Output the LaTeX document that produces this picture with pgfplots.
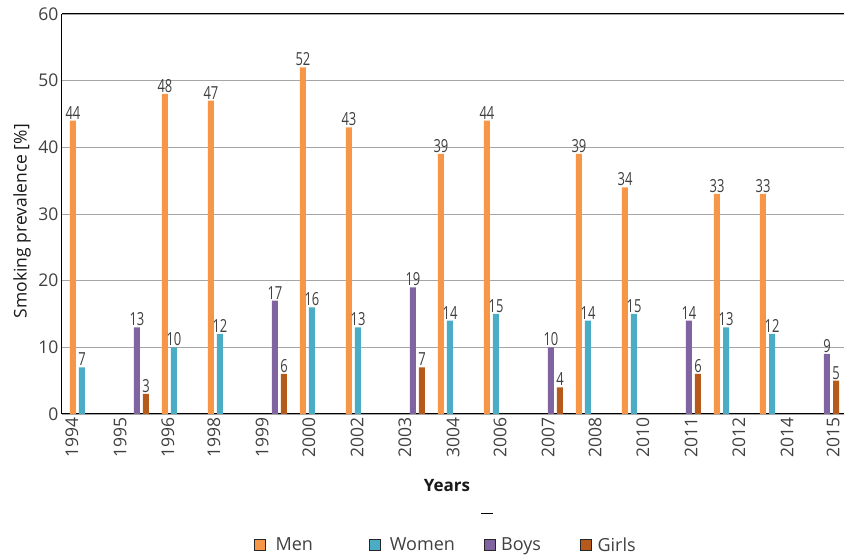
\documentclass[border=0pt]{standalone}
\usepackage{pgfplots}
\pgfplotsset{compat=1.18}
\usepackage{fontspec}
\setmainfont{Open Sans}
\newfontfamily\condfont[FakeStretch=0.72]{Open Sans}
\definecolor{men}{HTML}{F79646}
\definecolor{women}{HTML}{4BACC6}
\definecolor{boys}{HTML}{8064A2}
\definecolor{girls}{HTML}{B65A1C}
\definecolor{lbl}{HTML}{404040}
\definecolor{gridc}{HTML}{A6A6A6}
\begin{document}
\begin{tikzpicture}
\begin{axis}[
  at={(0pt,0pt)}, anchor=south west,
  scale only axis, width=782pt, height=400pt,
  xmin=-0.239, xmax=16.761, ymin=0, ymax=60,
  axis lines=left, axis line style={-, black, line width=1pt},
  ymajorgrids, grid style={gridc, line width=0.9pt},
  ytick={0,10,...,60},
  xtick={-0.022,1.022,2.065,3.065,4.109,5.130,6.174,7.217,8.261,9.283,10.326,11.348,12.391,13.435,14.478,15.522,16.522},
  xticklabels={1994,1995,1996,1998,1999,2000,2002,2003,3004,2006,2007,2008,2010,2011,2012,2014,2015},
  major tick length=0pt,
  tick label style={font=\fontsize{17.5}{20}\selectfont, text=lbl},
  x tick label style={rotate=90, anchor=east},
  /pgf/number format/assume math mode=true,
  ylabel={Smoking prevalence [\%]},
  y label style={at={(axis description cs:-0.0512,0.482)}, anchor=center, font=\fontsize{17.5}{20}\selectfont, text=black!90},
  xlabel={Years},
  x label style={at={(axis description cs:0.4923,-0.18)}, anchor=center, font=\fontsize{17}{20}\selectfont\bfseries, text=black!90},
  nodes near coords,
  every node near coord/.append style={font=\condfont\fontsize{18}{20}\selectfont, text=lbl, anchor=south, inner sep=1.2pt},
  legend columns=4,
  legend style={at={(axis description cs:0.2455,-0.3275)}, anchor=west, draw=none, fill=none, inner sep=0pt, nodes={inner sep=0pt}, font=\fontsize{18}{21}\selectfont, text=lbl, column sep=0pt},
]
\addplot[ybar, bar width=6pt, bar shift=0pt, fill=men, draw=none,
  legend image code/.code={\draw[fill=men, draw=black!85, line width=0.7pt] (0pt,-5.5pt) rectangle (11pt,5.5pt); \path (21pt,0pt);}]
  coordinates {(0,44) (2,48) (3,47) (5,52) (6,43) (8,39) (9,44) (11,39) (12,34) (14,33) (15,33)};
\addlegendentry[text width=93pt]{Men}
\addplot[ybar, bar width=6pt, bar shift=0pt, fill=women, draw=none,
  legend image code/.code={\draw[fill=women, draw=black!85, line width=0.7pt] (0pt,-5.5pt) rectangle (11pt,5.5pt); \path (21pt,0pt);}]
  coordinates {(0.1957,7) (2.1957,10) (3.1957,12) (5.1957,16) (6.1957,13) (8.1957,14) (9.1957,15) (11.1957,14) (12.1957,15) (14.1957,13) (15.1957,12)};
\addlegendentry[text width=94pt]{Women}
\addplot[ybar, bar width=6pt, bar shift=0pt, fill=boys, draw=none,
  legend image code/.code={\draw[fill=boys, draw=black!85, line width=0.7pt] (0pt,-5.5pt) rectangle (11pt,5.5pt); \path (17pt,0pt);}]
  coordinates {(1.3913,13) (4.3913,17) (7.3913,19) (10.3913,10) (13.3913,14) (16.3913,9)};
\addlegendentry[text width=79pt]{Boys}
\addplot[ybar, bar width=6pt, bar shift=0pt, fill=girls, draw=none,
  legend image code/.code={\draw[fill=girls, draw=black!85, line width=0.7pt] (0pt,-5.5pt) rectangle (11pt,5.5pt); \path (17pt,0pt);}]
  coordinates {(1.587,3) (4.587,6) (7.587,7) (10.587,4) (13.587,6) (16.587,5)};
\addlegendentry{Girls}
\draw[black, line width=1pt] (rel axis cs:0,1) -- (rel axis cs:1,1);
\coordinate (O) at (rel axis cs:0,0);
\end{axis}
\draw[black, line width=0.8pt] ([shift={(419pt,-99pt)}]O) -- ([shift={(431pt,-99pt)}]O);
\pgfresetboundingbox
\path[use as bounding box] ([shift={(-62pt,-142pt)}]O) rectangle ([shift={(782pt,414pt)}]O);
\end{tikzpicture}
\end{document}
